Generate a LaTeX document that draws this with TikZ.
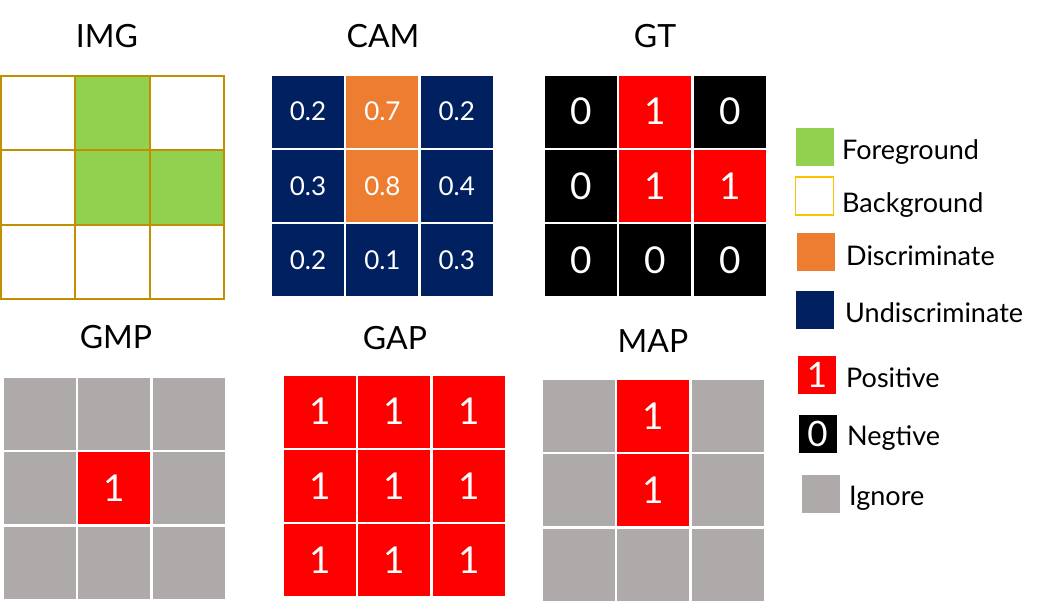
\documentclass[tikz,border=0pt]{standalone}
\usepackage{fontspec}
\setmainfont{Lato}
\usepackage{tikz}
\usetikzlibrary{positioning}
\definecolor{mGreen}{HTML}{92D050}
\definecolor{mGold}{HTML}{BF9000}
\definecolor{mAmber}{HTML}{FFC000}
\definecolor{mOrange}{HTML}{ED7D31}
\definecolor{mNavy}{HTML}{002060}
\definecolor{mRed}{HTML}{FF0000}
\definecolor{mGrey}{HTML}{AEAAAA}
\tikzset{
 cellbox/.style={minimum size=72pt, inner sep=0pt, text=white, font=\fontsize{37}{40}\selectfont},
 camcell/.style={cellbox, font=\fontsize{26}{30}\selectfont},
 imgcell/.style={draw=mGold, line width=2pt, minimum size=74.4pt, inner sep=0pt},
 title/.style={anchor=base, font=\fontsize{32}{36}\selectfont},
 keybox/.style={minimum size=38pt, inner sep=0pt, text=white, font=\fontsize{35}{38}\selectfont},
 keytext/.style={anchor=base west, inner sep=0pt, font=\fontsize{27}{30}\selectfont},
}
% 3x3 grid: style, name, centre of first cell, list of fill/text
\newcommand{\grid}[5]{%
\foreach \fc/\tx [count=\k from 0] in {#5} {
 \pgfmathtruncatemacro{\row}{int(\k/3)}
 \pgfmathtruncatemacro{\col}{mod(\k,3)}
 \node[#1, fill=\fc] (#2-\row\col) at ({#3+\col*74.4},{#4+\row*74.4}) {\tx};
}}

\begin{document}
\begin{tikzpicture}[x=1pt, y=-1pt]
\useasboundingbox (0,0) rectangle (1048,606);

% titles
\node[title] (timg) at (107,47) {IMG};
\node[title] (tcam) at (383,47) {CAM};
\node[title] (tgt) at (655,47) {GT};
\node[title] (tgmp) at (116,348) {GMP};
\node[title] (tgap) at (395,349) {GAP};
\node[title] (tmap) at (653,352) {MAP};

% grids
\grid{imgcell}{img}{38}{113}{white/{}, mGreen/{}, white/{}, white/{}, mGreen/{}, mGreen/{}, white/{}, white/{}, white/{}}
\grid{camcell}{cam}{308}{111.5}{mNavy/0.2, mOrange/0.7, mNavy/0.2, mNavy/0.3, mOrange/0.8, mNavy/0.4, mNavy/0.2, mNavy/0.1, mNavy/0.3}
\grid{cellbox}{gt}{581}{111.5}{black/0, mRed/1, black/0, black/0, mRed/1, mRed/1, black/0, black/0, black/0}
\grid{cellbox}{gmp}{40}{414}{mGrey/{}, mGrey/{}, mGrey/{}, mGrey/{}, mRed/1, mGrey/{}, mGrey/{}, mGrey/{}, mGrey/{}}
\grid{cellbox}{gap}{320}{411.5}{mRed/1, mRed/1, mRed/1, mRed/1, mRed/1, mRed/1, mRed/1, mRed/1, mRed/1}
\grid{cellbox}{map}{579}{416}{mGrey/{}, mRed/1, mGrey/{}, mGrey/{}, mRed/1, mGrey/{}, mGrey/{}, mGrey/{}, mGrey/{}}

% legend
\node[keybox, fill=mGreen] (kfg) at (815,147) {};
\node[keybox, fill=white, draw=mAmber, line width=1.6pt] (kbg) at (814.5,196) {};
\node[keybox, fill=mOrange] (kdis) at (816,252) {};
\node[keybox, fill=mNavy] (kund) at (815,310) {};
\node[keybox, fill=mRed] (kpos) at (817,374.5) {1};
\node[keybox, fill=black] (kneg) at (817.5,433.5) {0};
\node[keybox, fill=mGrey] (kign) at (820.5,493.5) {};
\node[keytext] (lfg) at (842,159) {Foreground};
\node[keytext] (lbg) at (842,212) {Background};
\node[keytext] (ldis) at (846,265) {Discriminate};
\node[keytext] (lund) at (845,322) {Undiscriminate};
\node[keytext] (lpos) at (846,387) {Positive};
\node[keytext] (lneg) at (847,445) {Negtive};
\node[keytext] (lign) at (849,505) {Ignore};
\end{tikzpicture}
\end{document}
